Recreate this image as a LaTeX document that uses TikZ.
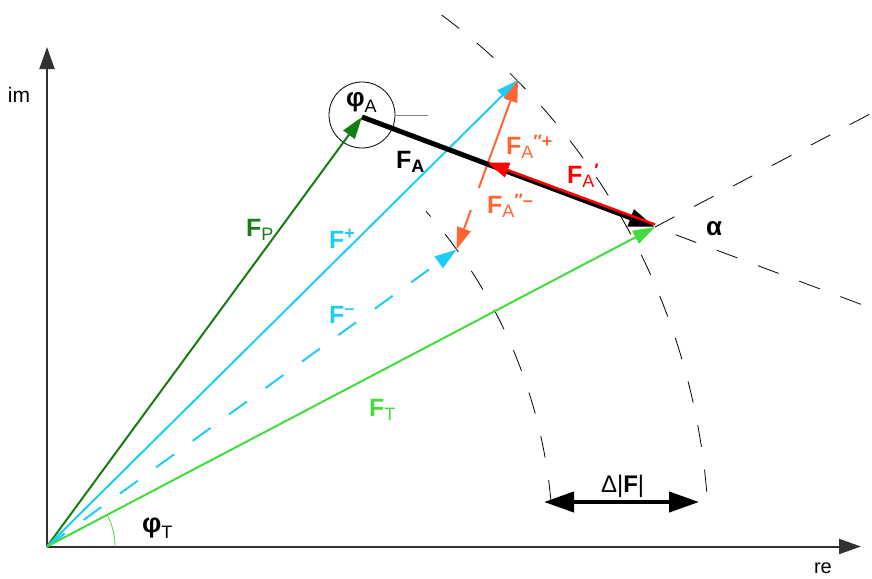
\documentclass[tikz,border=0pt]{standalone}
\usepackage{fontspec}
\setmainfont{Liberation Sans}
\usetikzlibrary{arrows.meta,calc}
\definecolor{cdg}{RGB}{20,125,20}
\definecolor{ccy}{RGB}{30,205,245}
\definecolor{clg}{RGB}{66,220,60}
\definecolor{cor}{RGB}{255,102,51}
\definecolor{cred}{RGB}{255,0,0}
\definecolor{cax}{RGB}{50,50,50}
\newcommand{\Fb}{{\fontsize{25}{25}\selectfont\bfseries F}}
\newcommand{\lsub}[2][-4pt]{\raisebox{#1}{\fontsize{18}{18}\selectfont #2}}
\newcommand{\lsup}[2][7pt]{\raisebox{#1}{\fontsize{18}{18}\selectfont #2}}
\begin{document}
\begin{tikzpicture}[x=1pt,y=1pt,
  axis/.style={cax,line width=2pt,-{Triangle[length=22pt,width=15pt]}},
  vec/.style={line width=2pt,-{Triangle[length=22pt,width=14pt]}},
  dline/.style={black,line width=0.8pt,dash pattern=on 22pt off 23pt},
  lab/.style={anchor=base west,inner sep=0pt,outer sep=0pt}]
\useasboundingbox (0,0) rectangle (872,-578);
% points
\coordinate (O) at (47,-546.5);
\coordinate (Ytip) at (47,-47);
\coordinate (Xtip) at (861,-546.5);
\coordinate (P) at (362,-117);
\coordinate (T) at (655,-227);
\coordinate (Fp) at (518,-80);
\coordinate (Q) at (487,-164.5);
\coordinate (Fm) at (456.5,-249.5);
\coordinate (Oa) at ($(Fp)!0.637!(Fm)$);
\coordinate (Ob) at ($(Fp)!0.767!(Fm)$);
\coordinate (Eup) at ($(O)!1.357!(T)$);
\coordinate (Edn) at ($(P)!1.741!(T)$);
\coordinate (Cc) at (362,-115);
\coordinate (Ce) at (395,-115);
\coordinate (Cl) at (428,-115);
\coordinate (dl) at (544,-502);
\coordinate (dr) at (699,-502);
% dashed construction lines
\draw[dline] (O) ++(53.4:662) arc[start angle=53.4,end angle=3.4,radius=662pt];
\draw[dline,dash phase=15pt] (O) ++(41.5:506) arc[start angle=41.5,end angle=3.8,radius=506pt];
\draw[dline,dash pattern=on 22pt off 22pt] (T) -- (Eup);
\draw[dline,dash pattern=on 22pt off 22pt,dash phase=22pt] (T) -- (Edn);
% axes
\draw[axis] (O) -- (Ytip);
\draw[axis] (O) -- (Xtip);
% angle phi_T
\draw[clg,line width=0.8pt] (O) ++(68,0) arc[start angle=0,end angle=27.7,radius=68pt];
% phi_A marker
\draw[black,line width=0.8pt] (Cc) circle (33pt);
\draw[gray,line width=0.8pt] (Ce) -- (Cl);
% vectors
\draw[vec,cdg] (O) -- (P);
\draw[vec,ccy] (O) -- (Fp);
\draw[vec,ccy,dash pattern=on 22pt off 23pt] (O) -- (Fm);
\draw[vec,clg] (O) -- (T);
\draw[vec,cor] (Oa) -- (Fp);
\draw[vec,cor] (Ob) -- (Fm);
\draw[black,line width=5pt,-{Triangle[length=26pt,width=17pt]}] (P) -- (T);
\draw[cred,line width=2.5pt,-{Triangle[length=22pt,width=15pt]}] ([yshift=2.5pt]T) -- ([yshift=2pt]Q);
% delta |F|
\draw[black,line width=4pt,{Triangle[length=30pt,width=20pt]}-{Triangle[length=30pt,width=20pt]}] (dl) -- (dr);
% labels
\node[lab,cdg] (lFP) at (246,-236) {\Fb\lsub{P}};
\node[lab,ccy] (lFplus) at (329,-248) {\Fb\lsup[9pt]{\bfseries +}};
\node[lab,ccy] (lFminus) at (329,-323) {\Fb\lsup[9pt]{\bfseries –}};
\node[lab,clg] (lFT) at (369,-416) {\Fb\lsub{T}};
\node[lab] (lFA) at (396,-168) {\Fb\lsub{\bfseries A}};
\node[lab,cor] (lFApp) at (506,-154) {\Fb\lsub{A}\lsup{\bfseries ″+}};
\node[lab,cor] (lFApm) at (487,-213) {\Fb\lsub{A}\lsup{\bfseries ″–}};
\node[lab,cred] (lFAp) at (567,-183) {\Fb\lsub{A}\lsup{\bfseries ′}};
\node[lab] (lphiA) at (346,-106) {{\fontsize{26}{26}\selectfont\bfseries φ}\lsub[-6pt]{A}};
\node[lab] (lphiT) at (142,-532) {{\fontsize{27}{27}\selectfont\bfseries φ}\lsub[-6pt]{T}};
\node[lab] (lalpha) at (706,-235) {\fontsize{26}{26}\selectfont\bfseries α};
\node[lab] (ldF) at (601,-492) {\fontsize{24}{24}\selectfont Δ|\textbf{F}|};
\node[lab] (lim) at (8,-102) {\fontsize{21}{21}\selectfont im};
\node[lab] (lre) at (814,-573) {\fontsize{20}{20}\selectfont re};
\end{tikzpicture}
\end{document}
